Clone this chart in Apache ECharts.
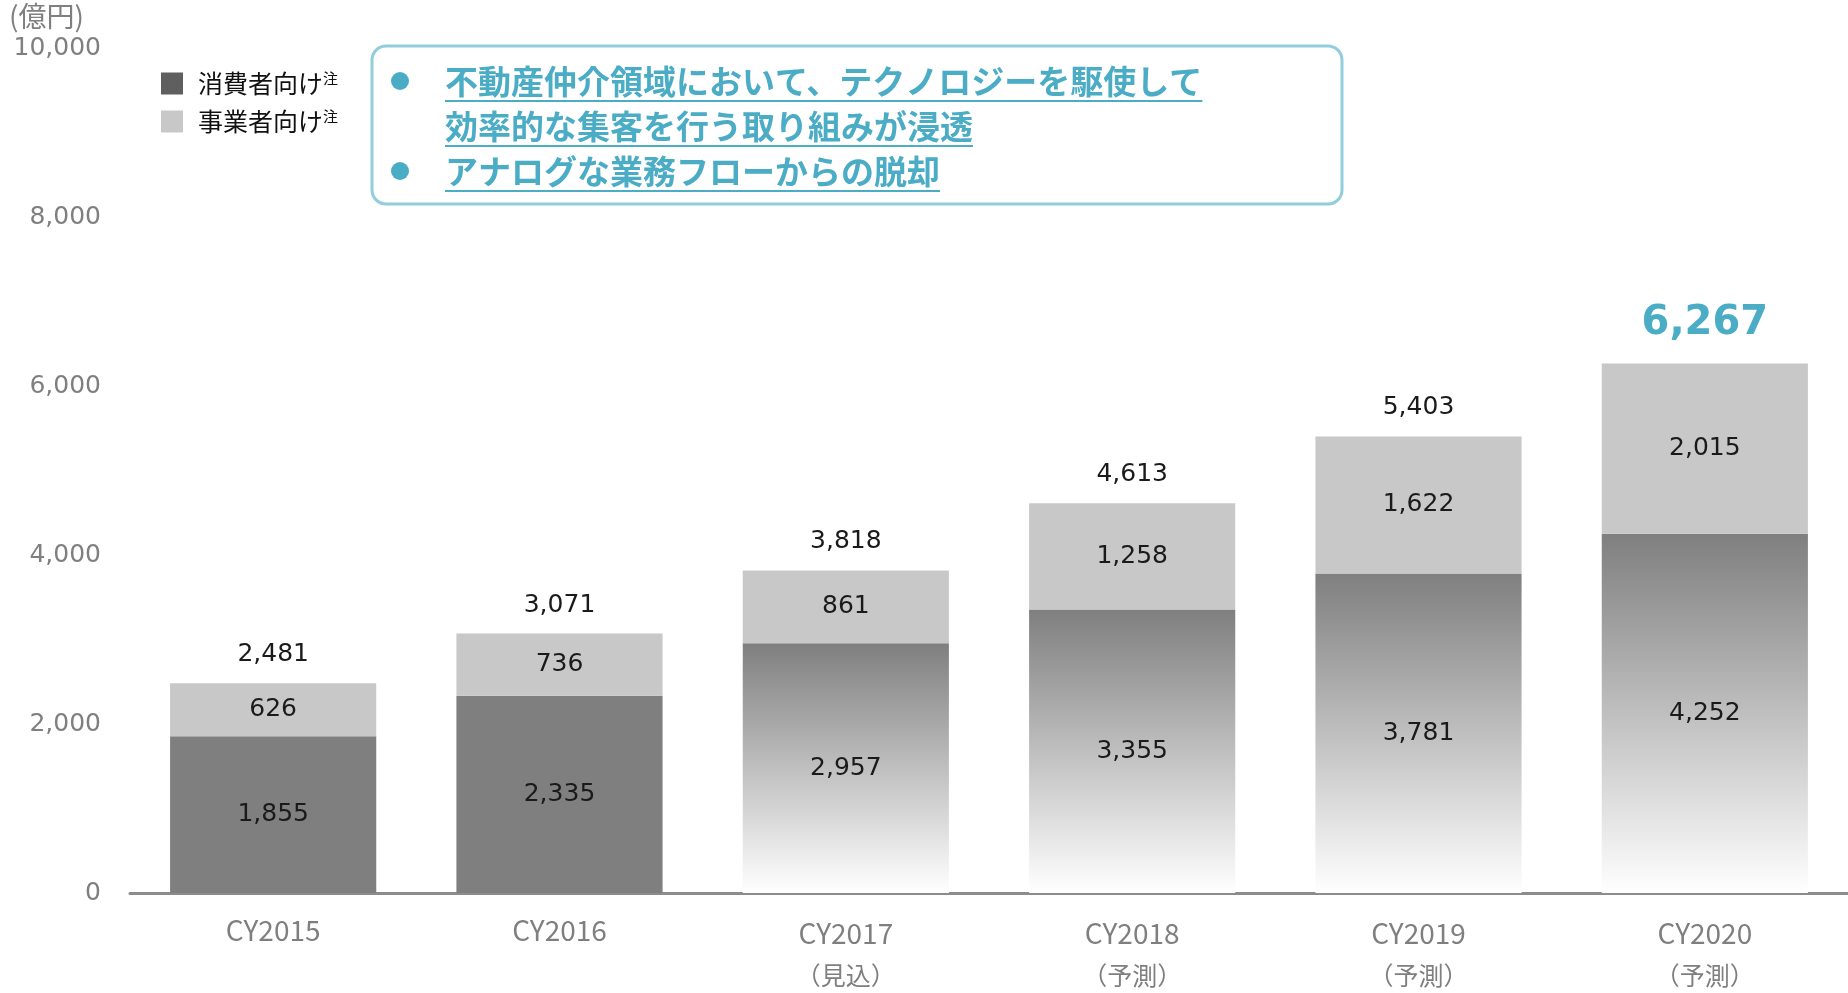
<!DOCTYPE html>
<html>
<head>
<meta charset="utf-8">
<title>市場規模推移</title>
<script src="https://cdn.jsdelivr.net/npm/echarts@6/dist/echarts.min.js"></script>
<style>
  html, body { margin: 0; padding: 0; background: #fff; }
  #chart { width: 1848px; height: 993px; }
</style>
</head>
<body>
<div id="chart"></div>
<script>
// データ
const categories = ['CY2015', 'CY2016', 'CY2017', 'CY2018', 'CY2019', 'CY2020']
const notes = ['', '', '（見込）', '（予測）', '（予測）', '（予測）']
const consumer = [1855, 2335, 2957, 3355, 3781, 4252]
const business = [626, 736, 861, 1258, 1622, 2015]
const totals = [2481, 3071, 3818, 4613, 5403, 6267]
const projected = [false, false, true, true, true, true]
const seriesNames = ['消費者向け', '事業者向け']
const yTicks = [0, 2000, 4000, 6000, 8000, 10000]
const calloutLines = [
  '不動産仲介領域において、テクノロジーを駆使して',
  '効率的な集客を行う取り組みが浸透',
  'アナログな業務フローからの脱却'
]

const BLUE = '#4bacc6'
const NUM_FONT = '"DejaVu Sans", Verdana, sans-serif'
const JP_FONT = '"Noto Sans CJK JP", sans-serif'
const fmt = v => echarts.format.addCommas(v)

// 吹き出しの下線幅を測る
const measure = (text, font) => {
  const ctx = document.createElement('canvas').getContext('2d')
  ctx.font = font
  return ctx.measureText(text).width
}

const fadeGray = new echarts.graphic.LinearGradient(0, 0, 0, 1, [
  { offset: 0, color: '#7f7f7f' },
  { offset: 1, color: '#ffffff' }
])

const calloutFont = 'bold 33px "Noto Sans CJK JP"'
const calloutX = 445
const calloutY = [81, 126, 171]
const calloutGraphic = [
  {
    type: 'rect',
    shape: { x: 372, y: 46, width: 970, height: 158, r: 14 },
    style: { fill: '#fff', stroke: '#92cddc', lineWidth: 3 }
  },
  { type: 'circle', shape: { cx: 400, cy: calloutY[0], r: 9 }, style: { fill: BLUE } },
  { type: 'circle', shape: { cx: 400, cy: calloutY[2], r: 9 }, style: { fill: BLUE } }
]
calloutLines.forEach((line, i) => {
  const w = measure(line, calloutFont)
  calloutGraphic.push({
    type: 'text',
    x: calloutX,
    y: calloutY[i],
    style: {
      text: line,
      font: calloutFont,
      fill: BLUE,
      verticalAlign: 'middle'
    }
  })
  calloutGraphic.push({
    type: 'line',
    shape: { x1: calloutX, y1: calloutY[i] + 20, x2: calloutX + w, y2: calloutY[i] + 20 },
    style: { stroke: BLUE, lineWidth: 2 }
  })
})

const chart = echarts.init(document.getElementById('chart'))

chart.setOption({
  animation: false,
  grid: { left: 130, right: 0, top: 48, bottom: 100 },
  legend: {
    data: [
      { name: seriesNames[0], itemStyle: { color: '#5f5f5f' } },
      { name: seriesNames[1], itemStyle: { color: '#c8c8c8' } }
    ],
    orient: 'vertical',
    left: 156,
    top: 66,
    icon: 'rect',
    itemWidth: 22,
    itemHeight: 22,
    itemGap: 13,
    selectedMode: false,
    formatter: name => '{a|' + name + '}{s|注}',
    textStyle: {
      rich: {
        a: { fontFamily: JP_FONT, fontSize: 25, color: '#111', padding: [0, 0, 0, 10] },
        s: { fontFamily: JP_FONT, fontSize: 15, color: '#111', verticalAlign: 'top', padding: [0, 0, 8, 0] }
      }
    }
  },
  xAxis: {
    type: 'category',
    data: categories,
    axisTick: { show: false },
    axisLine: { lineStyle: { color: '#8c8c8c', width: 3 } },
    axisLabel: {
      margin: 21,
      formatter: (v, i) => notes[i] ? '{b|' + v + '}\n{n|' + notes[i] + '}' : '{a|' + v + '}',
      rich: {
        a: { fontFamily: JP_FONT, fontSize: 28, color: '#7f7f7f', lineHeight: 32 },
        b: { fontFamily: JP_FONT, fontSize: 28, color: '#7f7f7f', lineHeight: 32, padding: [7, 0, 0, 0] },
        n: { fontFamily: JP_FONT, fontSize: 25, color: '#7f7f7f', lineHeight: 52, padding: [6, 0, 0, 0] }
      }
    }
  },
  yAxis: {
    type: 'value',
    min: yTicks[0],
    max: yTicks[yTicks.length - 1],
    interval: yTicks[1] - yTicks[0],
    splitLine: { show: false },
    axisLine: { show: false },
    axisTick: { show: false },
    axisLabel: {
      margin: 29,
      fontFamily: NUM_FONT,
      fontSize: 25,
      color: '#7f7f7f',
      formatter: v => fmt(v)
    }
  },
  series: [
    {
      name: seriesNames[0],
      type: 'bar',
      stack: 'total',
      barWidth: '72%',
      itemStyle: { color: '#7f7f7f' },
      label: {
        show: true,
        position: 'inside',
        fontFamily: NUM_FONT,
        fontSize: 25,
        color: '#1a1a1a',
        formatter: p => fmt(p.value)
      },
      data: consumer.map((v, i) => projected[i] ? { value: v, itemStyle: { color: fadeGray } } : v)
    },
    {
      name: seriesNames[1],
      type: 'bar',
      stack: 'total',
      itemStyle: { color: '#c8c8c8' },
      label: {
        show: true,
        position: 'inside',
        fontFamily: NUM_FONT,
        fontSize: 25,
        color: '#1a1a1a',
        formatter: p => fmt(p.value)
      },
      data: business
    },
    {
      // 合計ラベル用
      name: '合計',
      type: 'bar',
      stack: 'total',
      itemStyle: { color: 'transparent' },
      label: {
        show: true,
        position: 'top',
        distance: 16,
        fontFamily: NUM_FONT,
        fontSize: 25,
        color: '#1a1a1a',
        formatter: p => fmt(totals[p.dataIndex])
      },
      data: totals.map((t, i) => i === totals.length - 1
        ? { value: 0, label: { fontSize: 40, fontWeight: 'bold', color: BLUE, distance: 20 } }
        : 0)
    }
  ],
  graphic: [
    {
      type: 'text',
      left: 9,
      top: 2,
      style: { text: '(億円)', font: '28px "Noto Sans CJK JP"', fill: '#7f7f7f' }
    },
    ...calloutGraphic
  ]
})
</script>
</body>
</html>
